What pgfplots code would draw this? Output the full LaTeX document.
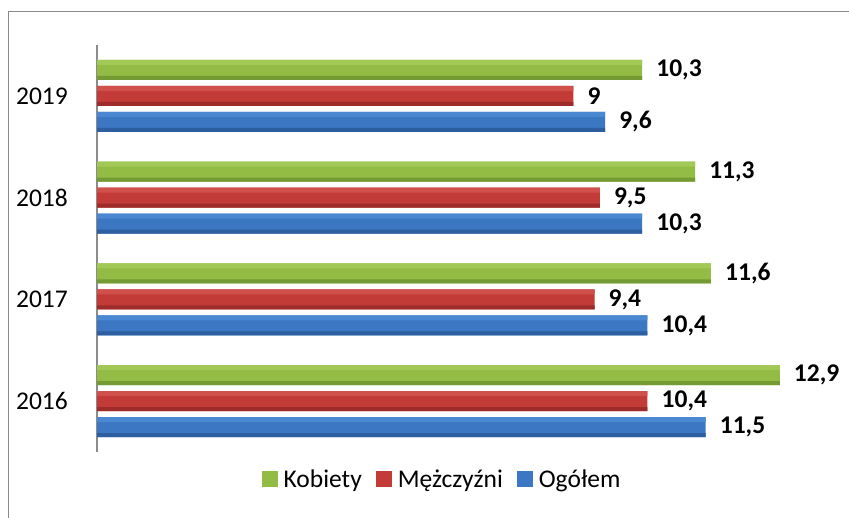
\documentclass[border=0pt]{standalone}
\usepackage{pgfplots}
\pgfplotsset{compat=1.18}
\usepackage{fontspec}
\setmainfont{Carlito}
\definecolor{gL}{HTML}{A2C955}
\definecolor{gM}{HTML}{92BC44}
\definecolor{gD}{HTML}{749A33}
\definecolor{rL}{HTML}{D0504B}
\definecolor{rM}{HTML}{C23B37}
\definecolor{rD}{HTML}{9C2B29}
\definecolor{bL}{HTML}{4B88D2}
\definecolor{bM}{HTML}{3B77C3}
\definecolor{bD}{HTML}{2D5E9F}
\definecolor{axisgray}{HTML}{8C8C8C}
\definecolor{framegray}{HTML}{8A8A8A}
\pgfplotsset{sq legend/.style={legend image code/.code={\path[##1,draw=none] (0pt,-8pt) rectangle (16pt,8pt);}}}
\begin{document}
\begin{tikzpicture}[x=1pt,y=1pt,font=\fontsize{25.5}{30}\selectfont]
\fill[white] (0,0) rectangle (849,517);
\draw[framegray, line width=1.5pt] (8.5,-2) -- (8.5,505.5) -- (851,505.5);
\begin{axis}[
  at={(97pt,65pt)}, anchor=south west,
  scale only axis, width=741pt, height=407pt,
  xmin=0, xmax=14, ymin=-0.5, ymax=3.5,
  xbar, bar width=20pt,
  clip=false,
  axis x line=none, axis y line*=left,
  axis line style={draw=axisgray, line width=1.2pt},
  ytick={0,1,2,3}, yticklabels={2016,2017,2018,2019},
  major tick length=0pt, ytick style={draw=none},
  yticklabel style={anchor=east, inner sep=0pt, xshift=-29pt},
  /pgf/number format/.cd, use comma, assume math mode=true, /pgfplots/.cd,
  every node near coord/.append style={anchor=west, inner sep=0pt, xshift=14pt, font=\fontsize{25.5}{30}\selectfont\bfseries, text=black},
  legend style={at={(0.4656,-0.0663)}, anchor=center, draw=none, fill=none,
    legend columns=-1,
    /tikz/every odd column/.append style={column sep=4pt},
    /tikz/every even column/.append style={column sep=12pt}},
]
% Kobiety
\addplot[draw=none, fill=gM, bar shift=26pt, sq legend,
  nodes near coords={\pgfmathprintnumber{\pgfplotspointmeta}}]
  coordinates {(12.9,0) (11.6,1) (11.3,2) (10.3,3)};
% Mężczyźni
\addplot[draw=none, fill=rM, bar shift=0pt, sq legend,
  nodes near coords={\pgfmathprintnumber{\pgfplotspointmeta}}]
  coordinates {(10.4,0) (9.4,1) (9.5,2) (9,3)};
% Ogółem
\addplot[draw=none, fill=bM, bar shift=-26pt, sq legend,
  nodes near coords={\pgfmathprintnumber{\pgfplotspointmeta}}]
  coordinates {(11.5,0) (10.4,1) (10.3,2) (9.6,3)};
\legend{Kobiety, Mężczyźni, Ogółem}
% gloss overlays (same values)
\addplot[forget plot, draw=none, fill=gD, bar width=4pt, bar shift=18pt]
  coordinates {(12.9,0) (11.6,1) (11.3,2) (10.3,3)};
\addplot[forget plot, draw=none, fill=gL, bar width=5pt, bar shift=33.5pt]
  coordinates {(12.9,0) (11.6,1) (11.3,2) (10.3,3)};
\addplot[forget plot, draw=none, fill=rD, bar width=4pt, bar shift=-8pt]
  coordinates {(10.4,0) (9.4,1) (9.5,2) (9,3)};
\addplot[forget plot, draw=none, fill=rL, bar width=5pt, bar shift=7.5pt]
  coordinates {(10.4,0) (9.4,1) (9.5,2) (9,3)};
\addplot[forget plot, draw=none, fill=bD, bar width=4pt, bar shift=-34pt]
  coordinates {(11.5,0) (10.4,1) (10.3,2) (9.6,3)};
\addplot[forget plot, draw=none, fill=bL, bar width=5pt, bar shift=-18.5pt]
  coordinates {(11.5,0) (10.4,1) (10.3,2) (9.6,3)};
\end{axis}
\pgfresetboundingbox
\useasboundingbox (0,0) rectangle (849,517);
\end{tikzpicture}
\end{document}
